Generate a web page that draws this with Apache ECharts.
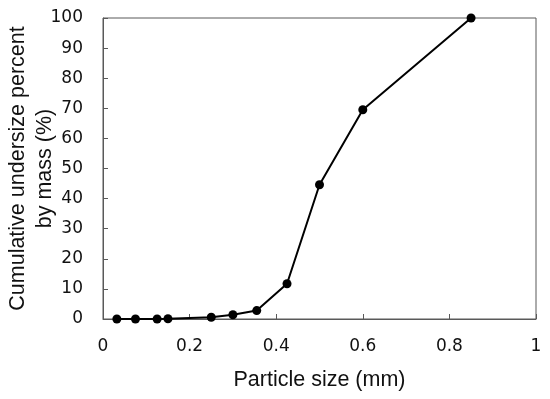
<!DOCTYPE html>
<html>
<head>
<meta charset="utf-8">
<script src="https://cdn.jsdelivr.net/npm/echarts@6/dist/echarts.min.js"></script>
<style>html,body{margin:0;padding:0;background:#fff;}#c{width:550px;height:399px;}</style>
</head>
<body>
<div id="c"></div>
<script>
var particleSize = [0.032, 0.075, 0.125, 0.15, 0.25, 0.3, 0.355, 0.425, 0.5, 0.6, 0.85];
var cumulativePercent = [0, 0, 0, 0.1, 0.6, 1.4, 2.8, 11.7, 44.6, 69.5, 100];
var xTicks = [0, 0.2, 0.4, 0.6, 0.8, 1];
var yTicks = [0, 10, 20, 30, 40, 50, 60, 70, 80, 90, 100];
var xName = 'Particle size (mm)';
var yName = 'Cumulative undersize percent\nby mass (%)';

var chart = echarts.init(document.getElementById('c'));
var axisColor = '#595959';
chart.setOption({
  animation: false,
  backgroundColor: '#fff',
  grid: {left: 103, right: 14, top: 18, bottom: 80, containLabel: false, outerBoundsMode: 'none',
    show: true, borderColor: axisColor, borderWidth: 1},
  xAxis: {
    type: 'value', min: xTicks[0], max: xTicks[xTicks.length - 1], interval: 0.2,
    name: xName, nameLocation: 'middle', nameGap: 50, nameMoveOverlap: false,
    nameTextStyle: {fontFamily: 'Liberation Sans', fontSize: 21.5, color: '#111'},
    axisLine: {show: true, lineStyle: {color: axisColor, width: 1}},
    axisTick: {show: true, inside: true, length: 5, lineStyle: {color: axisColor}},
    splitLine: {show: false},
    axisLabel: {margin: 19, fontFamily: 'DejaVu Sans', fontSize: 17, color: '#111',
      formatter: function (v) { return String(+v.toFixed(1)); }}
  },
  yAxis: {
    type: 'value', min: yTicks[0], max: yTicks[yTicks.length - 1], interval: 10,
    name: yName, nameLocation: 'middle', nameGap: 44, nameMoveOverlap: false,
    nameTextStyle: {fontFamily: 'Liberation Sans', fontSize: 21.5, color: '#111', lineHeight: 27},
    axisLine: {show: true, lineStyle: {color: axisColor, width: 1}},
    axisTick: {show: true, inside: true, length: 5, lineStyle: {color: axisColor}},
    splitLine: {show: false},
    axisLabel: {margin: 20, fontFamily: 'DejaVu Sans', fontSize: 17, color: '#111'}
  },
  series: [{
    type: 'line',
    data: particleSize.map(function (x, i) { return [x, cumulativePercent[i]]; }),
    symbol: 'circle', symbolSize: 9,
    lineStyle: {color: '#000', width: 2},
    itemStyle: {color: '#000'}
  }]
});
</script>
</body>
</html>
